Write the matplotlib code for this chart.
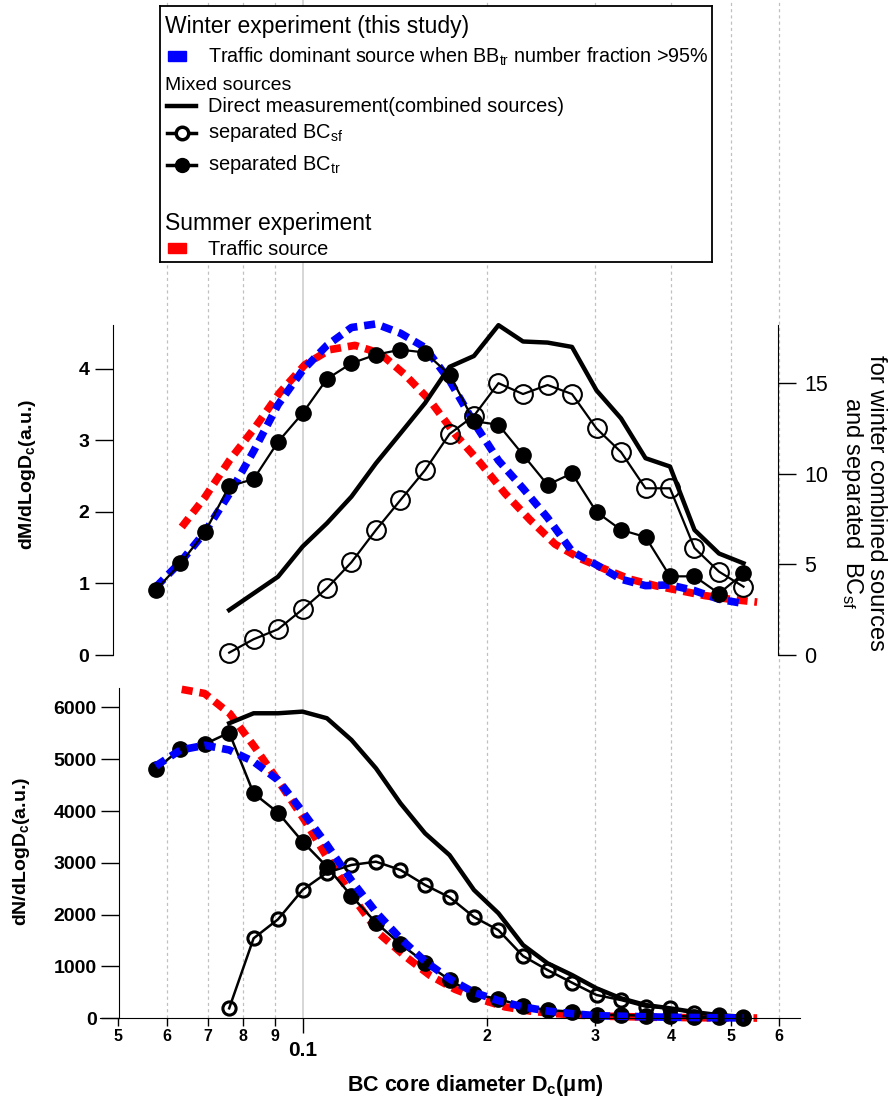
import matplotlib
matplotlib.use('Agg')
from matplotlib import pyplot as plt
from matplotlib.ticker import FixedLocator, FixedFormatter, NullLocator
from matplotlib.patches import Rectangle

plt.rcParams['font.family'] = ['Liberation Sans', 'DejaVu Sans']
plt.rcParams['mathtext.fontset'] = 'custom'
plt.rcParams['mathtext.rm'] = 'Liberation Sans'
plt.rcParams['mathtext.it'] = 'Liberation Sans:italic'
plt.rcParams['mathtext.bf'] = 'Liberation Sans:bold'

# ---- data ----
# winter size bins, BC core diameter in um
dWinter = [0.0576, 0.0632, 0.0693, 0.0759, 0.0832, 0.0912, 0.1000, 0.1096, 0.1202,
           0.1318, 0.1445, 0.1585, 0.1738, 0.1905, 0.2089, 0.2291, 0.2512, 0.2754,
           0.3020, 0.3311, 0.3631, 0.3981, 0.4365, 0.4786, 0.5248]
# mixed-source series start at the 4th bin
dMixed = [0.0759, 0.0832, 0.0912, 0.1000, 0.1096, 0.1202, 0.1318, 0.1445, 0.1585,
          0.1738, 0.1905, 0.2089, 0.2291, 0.2512, 0.2754, 0.3020, 0.3311, 0.3631,
          0.3981, 0.4365, 0.4786, 0.5248]
# summer traffic curve
dSummer = [0.0635, 0.0692, 0.0761, 0.0836, 0.0918, 0.1009, 0.1108, 0.1218, 0.1338,
           0.1470, 0.1614, 0.1774, 0.1949, 0.2141, 0.2352, 0.2584, 0.2839, 0.3119,
           0.3426, 0.3764, 0.4135, 0.4543, 0.4991, 0.5524]

# dM/dLogDc (left axis)
massTrafficWinter = [0.95, 1.3, 1.72, 2.25, 2.85, 3.5, 3.98, 4.33, 4.58, 4.63, 4.5, 4.3, 3.84,
                     3.25, 2.72, 2.33, 1.92, 1.45, 1.26, 1.06, 0.97, 0.98, 0.9, 0.78, 0.72]
massTrafficSummer = [1.79, 2.2, 2.73, 3.18, 3.67, 4.06, 4.27, 4.33, 4.22, 3.92, 3.56, 3.09,
                     2.69, 2.26, 1.89, 1.55, 1.35, 1.2, 1.06, 0.97, 0.9, 0.83, 0.78, 0.74]
massBCtr = [0.91, 1.28, 1.72, 2.36, 2.46, 2.98, 3.38, 3.86, 4.08, 4.2, 4.27, 4.23, 3.92,
            3.27, 3.22, 2.8, 2.38, 2.54, 2.0, 1.75, 1.65, 1.1, 1.1, 0.86, 1.14]
# dM/dLogDc (right axis)
massBCsf = [0.13, 0.87, 1.42, 2.52, 3.68, 5.12, 6.9, 8.55, 10.2, 12.2, 13.2, 15.0, 14.4,
            14.9, 14.4, 12.5, 11.2, 9.2, 9.2, 5.9, 4.6, 3.77]
massDirect = [2.48, 3.4, 4.32, 5.98, 7.27, 8.74, 10.58, 12.23, 13.9, 15.9, 16.5, 18.2, 17.3,
              17.24, 17.0, 14.6, 13.06, 10.86, 10.4, 6.9, 5.6, 5.06]

# dN/dLogDc
numTrafficWinter = [4871, 5180, 5270, 5180, 4954, 4600, 3990, 3350, 2660, 2050, 1540, 1100,
                    760, 500, 340, 220, 140, 90, 50, 40, 30, 20, 15, 10, 8]
numTrafficSummer = [6350, 6270, 5880, 5230, 4540, 3815, 3020, 2280, 1620, 1200, 830, 560,
                    370, 220, 140, 90, 60, 40, 30, 20, 15, 10, 8, 5]
numBCtr = [4807, 5199, 5295, 5514, 4343, 3970, 3410, 2927, 2361, 1846, 1434, 1074, 740,
           470, 370, 237, 160, 128, 64, 64, 50, 50, 30, 20, 15]
numBCsf = [193, 1544, 1911, 2477, 2811, 2960, 3023, 2863, 2573, 2336, 1955, 1700, 1202,
           932, 688, 450, 353, 225, 193, 100, 60, 30]
numDirect = [5695, 5888, 5888, 5920, 5792, 5373, 4826, 4151, 3571, 3150, 2477, 2027, 1415,
             1062, 836, 579, 386, 257, 193, 120, 60, 30]

minorTicks = [0.05, 0.06, 0.07, 0.08, 0.09, 0.2, 0.3, 0.4, 0.5, 0.6]
minorLabels = ['5', '6', '7', '8', '9', '2', '3', '4', '5', '6']

# ---- figure ----
W, H = 893, 1106
fig = plt.figure(figsize=(W / 100, H / 100), dpi=100)


def box(x0, y0, x1, y1):
    return [x0 / W, 1 - y1 / H, (x1 - x0) / W, (y1 - y0) / H]


xlim = (0.0467, 0.649)
dash = (0, (1.45, 0.9))

# background grid lines running over the whole height
bg = fig.add_axes(box(100, 0, 800, 1018.3), zorder=0)
bg.set_xscale('log')
bg.set_xlim(xlim)
bg.axis('off')
for x in minorTicks[1:]:
    bg.axvline(x, color='#c0c0c0', lw=0.9, ls=(0, (2.5, 2.5)))
bg.axvline(0.1, color='#cfcfcf', lw=1.2)

# ---- top panel: mass ----
axTop = fig.add_axes(box(100, 325, 800, 655), zorder=2)
axTop.patch.set_visible(False)
axTop.set_xscale('log')
axTop.set_xlim(xlim)
axTop.set_ylim(0, 4.615)
axTop.plot(dSummer, massTrafficSummer, color='red', lw=5.5, ls=dash, dash_capstyle='butt', clip_on=False)
axTop.plot(dWinter, massTrafficWinter, color='blue', lw=5.5, ls=dash, dash_capstyle='butt', clip_on=False)
axTop.plot(dWinter, massBCtr, color='black', lw=1.6, marker='o', ms=11, mfc='black', mec='black', clip_on=False)

axR = axTop.twinx()
axR.set_xscale('log')
axR.set_xlim(xlim)
axR.set_ylim(0, 18.21)
axR.plot(dMixed, massBCsf, color='black', lw=1.6, marker='o', ms=13.5, mfc='none', mec='black', mew=1.5, clip_on=False)
axR.plot(dMixed, massDirect, color='black', lw=3.2, clip_on=False)

for a in (axTop, axR):
    a.xaxis.set_major_locator(NullLocator())
    a.xaxis.set_minor_locator(NullLocator())
    for s in ('top', 'bottom'):
        a.spines[s].set_visible(False)
axTop.spines['right'].set_visible(False)
axTop.spines['left'].set_position(('axes', 13 / 700))
axR.spines['left'].set_visible(False)
axR.spines['right'].set_position(('axes', 678 / 700))

axTop.set_yticks([0, 1, 2, 3, 4])
axTop.tick_params(axis='y', direction='out', length=13, width=1, pad=4, labelsize=14)
for t in axTop.get_yticklabels():
    t.set_fontweight('bold')
axR.set_yticks([0, 5, 10, 15])
axR.tick_params(axis='y', direction='out', length=13, width=1, pad=6, labelsize=15.5)

# ---- bottom panel: number ----
axBot = fig.add_axes(box(100, 688.3, 800, 1018.3), zorder=2)
axBot.patch.set_visible(False)
axBot.set_xscale('log')
axBot.set_xlim(xlim)
axBot.set_ylim(0, 6370)
axBot.plot(dSummer, numTrafficSummer, color='red', lw=5.5, ls=dash, dash_capstyle='butt', clip_on=False)
axBot.plot(dMixed, numDirect, color='black', lw=3.2, clip_on=False)
axBot.plot(dMixed, numBCsf, color='black', lw=1.8, marker='o', ms=9.5, mfc='none', mec='black', mew=2.2, clip_on=False)
axBot.plot(dWinter, numBCtr, color='black', lw=1.8, marker='o', ms=11, mfc='black', mec='black', clip_on=False)
axBot.plot(dWinter, numTrafficWinter, color='blue', lw=5.5, ls=dash, dash_capstyle='butt', clip_on=False)

axBot.spines['top'].set_visible(False)
axBot.spines['right'].set_visible(False)
axBot.spines['left'].set_position(('axes', 19 / 700))
axBot.set_yticks([0, 1000, 2000, 3000, 4000, 5000, 6000])
axBot.tick_params(axis='y', direction='out', length=13, width=1, pad=3, labelsize=14)
for t in axBot.get_yticklabels():
    t.set_fontweight('bold')

axBot.xaxis.set_major_locator(FixedLocator([0.1]))
axBot.xaxis.set_major_formatter(FixedFormatter(['0.1']))
axBot.xaxis.set_minor_locator(FixedLocator(minorTicks))
axBot.xaxis.set_minor_formatter(FixedFormatter(minorLabels))
axBot.tick_params(axis='x', which='major', direction='out', length=11, width=1, pad=5, labelsize=15)
axBot.tick_params(axis='x', which='minor', direction='out', length=5.5, width=1, pad=2, labelsize=11.5)
for t in axBot.get_xticklabels(which='both'):
    t.set_fontweight('bold')

# ---- axis titles ----
fig.text(28 / W, 1 - 474 / H, 'dM/dLogD$_\\mathbf{c}$(a.u.)', rotation=90, ha='center', va='center',
         fontsize=14, fontweight='bold')
fig.text(22 / W, 1 - 852 / H, 'dN/dLogD$_\\mathbf{c}$(a.u.)', rotation=90, ha='center', va='center',
         fontsize=14, fontweight='bold')
fig.text(863 / W, 1 - 503 / H, 'for winter combined sources\nand separated  BC$_{\\rm sf}$', rotation=-90,
         ha='center', va='center', fontsize=17, multialignment='center', linespacing=1.0)
fig.text(475 / W, 1 - 1086 / H, 'BC core diameter D$_\\mathbf{c}$(μm)', ha='center', va='center',
         fontsize=15.5, fontweight='bold')

# ---- legend box ----
leg = fig.add_axes(box(160, 6, 712, 262), zorder=5)
leg.set_xlim(160, 712)
leg.set_ylim(262, 6)
leg.set_xticks([])
leg.set_yticks([])
leg.set_facecolor('white')
for s in leg.spines.values():
    s.set_linewidth(1.3)

leg.text(165, 33, 'Winter experiment (this study)', fontsize=16.5, va='baseline')
leg.add_patch(Rectangle((168, 51), 18, 10, color='blue'))
leg.text(208, 63, 'Traffic dominant source when BB$_{\\rm tr}$ number fraction >95%', fontsize=14.2, va='baseline')
leg.text(165, 90.5, 'Mixed sources', fontsize=14, va='baseline')
leg.plot([167, 196], [106, 106], color='black', lw=3.2)
leg.text(208, 112, 'Direct measurement(combined sources)', fontsize=14.4, va='baseline')
leg.plot([167, 196], [133, 133], color='black', lw=2.5)
leg.plot([181.5], [133], marker='o', ms=9, mfc='white', mec='black', mew=2.5)
leg.text(208, 138, 'separated BC$_{\\rm sf}$', fontsize=14.4, va='baseline')
leg.plot([167, 196], [165, 165], color='black', lw=2.5)
leg.plot([181.5], [165], marker='o', ms=10, mfc='black', mec='black')
leg.text(208, 170, 'separated BC$_{\\rm tr}$', fontsize=14.4, va='baseline')
leg.text(165, 230, 'Summer experiment', fontsize=16.5, va='baseline')
leg.add_patch(Rectangle((168, 243), 18, 10, color='red'))
leg.text(208, 255, 'Traffic source', fontsize=14.4, va='baseline')

fig.savefig('out.png', dpi=100)
